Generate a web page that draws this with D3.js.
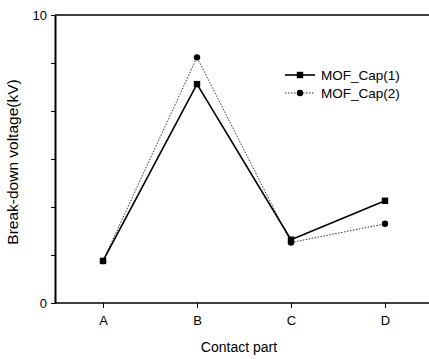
<!DOCTYPE html>
<html>
<head>
<meta charset="utf-8">
<script src="https://cdn.jsdelivr.net/npm/d3@7"></script>
<style>
  body { margin: 0; background: #fff; }
  svg { display: block; font-family: "Liberation Sans", Arial, sans-serif; }
</style>
</head>
<body>
<svg id="chart" width="429" height="359"></svg>
<script>
// data
const categories = ["A", "B", "C", "D"];
const cap1 = [1.46, 7.6, 2.2, 3.55];
const cap2 = [1.46, 8.53, 2.1, 2.75];
const seriesNames = ["MOF_Cap(1)", "MOF_Cap(2)"];
const yTickLabels = [0, 10];

const svg = d3.select("#chart");
const plotLeft = 55, plotTop = 15, plotBottom = 303, plotRight = 432;

const x = d3.scalePoint().domain(categories).range([103, 385]);
const y = d3.scaleLinear().domain([0, 10]).range([plotBottom, plotTop]);

// frame: top and bottom lines run to the right edge
svg.append("line").attr("x1", plotLeft).attr("x2", plotRight).attr("y1", plotTop).attr("y2", plotTop)
  .attr("stroke", "#000").attr("stroke-width", 1.5);

// x axis
const xAxis = svg.append("g").attr("transform", "translate(0," + plotBottom + ")")
  .call(d3.axisBottom(x).tickSize(5).tickSizeOuter(0));
xAxis.select(".domain").attr("d", "M" + plotLeft + ",0H" + plotRight).attr("stroke-width", 1.5);
xAxis.selectAll("text").attr("font-size", 13).attr("dy", "1.1em").attr("fill", "#000");

// y axis: labels at 0 and 10, minor ticks in between
const yAxis = svg.append("g").attr("transform", "translate(" + plotLeft + ",0)")
  .call(d3.axisLeft(y).tickValues(d3.range(0, 10.01, 10 / 6)).tickSize(4).tickSizeOuter(0)
    .tickFormat(d => yTickLabels.includes(Math.round(d * 1000) / 1000) ? d3.format("d")(d) : ""));
yAxis.select(".domain").attr("stroke-width", 2);
yAxis.selectAll("text").attr("font-size", 13).attr("fill", "#000").attr("x", -8);

// axis titles
svg.append("text").attr("x", 239).attr("y", 352).attr("text-anchor", "middle")
  .attr("font-size", 14).text("Contact part");
svg.append("text").attr("transform", "translate(18,162) rotate(-90)")
  .attr("text-anchor", "middle").attr("font-size", 15.5).text("Break-down voltage(kV)");

const line = d3.line().x((d, i) => x(categories[i])).y(d => y(d));

// series 2: dotted, circles
svg.append("path").datum(cap2).attr("d", line).attr("fill", "none")
  .attr("stroke", "#333").attr("stroke-width", 1).attr("stroke-dasharray", "1.5,1.5");
svg.selectAll(".c2").data(cap2).enter().append("circle")
  .attr("cx", (d, i) => x(categories[i])).attr("cy", d => y(d)).attr("r", 3.2).attr("fill", "#000");

// series 1: solid, squares
svg.append("path").datum(cap1).attr("d", line).attr("fill", "none")
  .attr("stroke", "#000").attr("stroke-width", 1.6);
svg.selectAll(".s1").data(cap1).enter().append("rect")
  .attr("x", (d, i) => x(categories[i]) - 3.2).attr("y", d => y(d) - 3.2)
  .attr("width", 6.4).attr("height", 6.4).attr("fill", "#000");

// legend
const legend = svg.append("g").attr("transform", "translate(285,75)");
seriesNames.forEach((name, i) => {
  const g = legend.append("g").attr("transform", "translate(0," + i * 18 + ")");
  g.append("line").attr("x1", 0).attr("x2", 30).attr("y1", 0).attr("y2", 0)
    .attr("stroke", i === 0 ? "#000" : "#333").attr("stroke-width", i === 0 ? 1.6 : 1)
    .attr("stroke-dasharray", i === 0 ? null : "1.5,1.5");
  if (i === 0) {
    g.append("rect").attr("x", 15 - 3.2).attr("y", -3.2).attr("width", 6.4).attr("height", 6.4);
  } else {
    g.append("circle").attr("cx", 15).attr("cy", 0).attr("r", 3.2);
  }
  g.append("text").attr("x", 36).attr("y", 0).attr("dy", "0.35em")
    .attr("font-size", 13.5).text(name);
});
</script>
</body>
</html>
